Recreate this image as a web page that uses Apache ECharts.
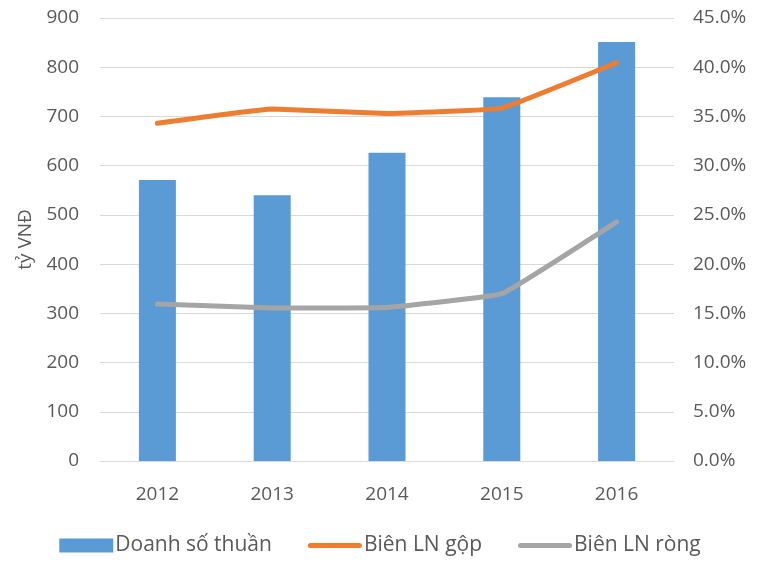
<!DOCTYPE html>
<html>
<head>
<meta charset="utf-8">
<script src="https://cdn.jsdelivr.net/npm/echarts@6/dist/echarts.min.js"></script>
<style>
  html, body { margin: 0; padding: 0; background: #fff; }
  #chart { width: 760px; height: 562px; }
</style>
</head>
<body>
<div id="chart"></div>
<script>
// values
const years = ['2012', '2013', '2014', '2015', '2016'];
const revenue = [571, 540, 626, 739, 851];          // tỷ VNĐ
const grossMargin = [34.3, 35.75, 35.3, 35.85, 40.45]; // %
const netMargin = [15.95, 15.55, 15.6, 17.0, 24.3];    // %

const textColor = '#595959';
const font = '"Open Sans", "Noto Sans", sans-serif';
// thin bar inside a 54x14 box, used as the legend mark for the lines
const lineIcon = 'path://M0,0 M2.5,4.5 H51.5 A2.5,2.5 0 0 1 51.5,9.5 H2.5 A2.5,2.5 0 0 1 2.5,4.5 Z M54,14';

const chart = echarts.init(document.getElementById('chart'));

chart.setOption({
  animation: false,
  textStyle: { fontFamily: font, color: textColor },
  grid: { left: 100, right: 86, top: 18, bottom: 101 },
  legend: {
    bottom: 1,
    left: 'center',
    itemWidth: 54,
    itemHeight: 14,
    itemGap: 36,
    textStyle: { fontSize: 21, color: textColor, fontFamily: font, padding: [0, 0, 0, -3] },
    data: [
      { name: 'Doanh số thuần', icon: 'rect' },
      { name: 'Biên LN gộp', icon: lineIcon },
      { name: 'Biên LN ròng', icon: lineIcon }
    ]
  },
  xAxis: {
    type: 'category',
    data: years,
    axisLine: { show: true, lineStyle: { color: '#D9D9D9', width: 1 } },
    axisTick: { show: false },
    axisLabel: { fontSize: 19, color: textColor, margin: 24 }
  },
  yAxis: [
    {
      type: 'value',
      min: 0, max: 900, interval: 100,
      name: 'tỷ VNĐ',
      nameLocation: 'middle',
      nameGap: 62,
      nameRotate: 90,
      nameTextStyle: { fontSize: 19, color: textColor },
      axisLine: { show: false },
      axisTick: { show: false },
      axisLabel: { fontSize: 19, color: textColor, margin: 21 },
      splitLine: { lineStyle: { color: '#D9D9D9', width: 1 } }
    },
    {
      type: 'value',
      min: 0, max: 45, interval: 5,
      position: 'right',
      axisLine: { show: false },
      axisTick: { show: false },
      axisLabel: {
        fontSize: 19, color: textColor, margin: 19,
        formatter: v => v.toFixed(1) + '%'
      },
      splitLine: { show: false }
    }
  ],
  series: [
    {
      name: 'Doanh số thuần',
      type: 'bar',
      data: revenue,
      barWidth: 37,
      itemStyle: { color: '#5B9BD5' }
    },
    {
      name: 'Biên LN gộp',
      type: 'line',
      yAxisIndex: 1,
      data: grossMargin,
      symbol: 'none',
      smooth: 0.08,
      lineStyle: { color: '#ED7D31', width: 5, cap: 'round', join: 'round' },
      itemStyle: { color: '#ED7D31' }
    },
    {
      name: 'Biên LN ròng',
      type: 'line',
      yAxisIndex: 1,
      data: netMargin,
      symbol: 'none',
      smooth: 0.08,
      lineStyle: { color: '#A5A5A5', width: 5, cap: 'round', join: 'round' },
      itemStyle: { color: '#A5A5A5' }
    }
  ]
});
</script>
</body>
</html>
